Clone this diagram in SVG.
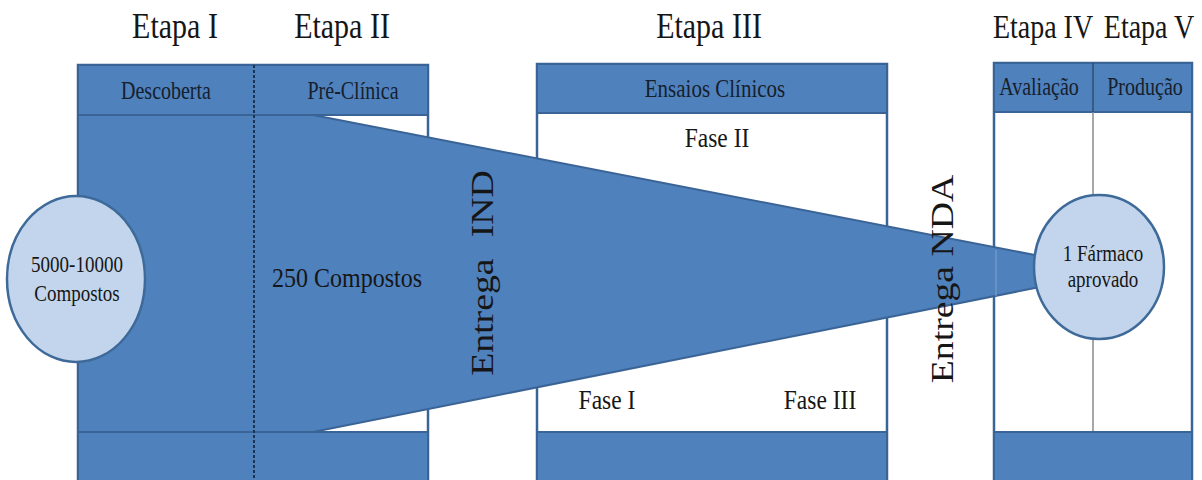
<svg xmlns="http://www.w3.org/2000/svg" width="1202" height="480" viewBox="0 0 1202 480">
  <style>
    .band { fill: #4F81BD; stroke: #3B6496; stroke-width: 2; }
    .frame { fill: #FFFFFF; stroke: #3B6496; stroke-width: 2.5; }
    .t { font-family: "Liberation Serif", "Times New Roman", serif; fill: #161616; text-anchor: middle; }
    .stage { font-size: 30px; }
    .hdr { font-size: 20px; fill: #16202C; }
    .phase { font-size: 23.5px; }
    .bubble { fill: #C3D5EC; stroke: #3E6A9A; stroke-width: 2.5; }
  </style>

  <!-- stage titles -->
  <g id="stage-titles">
    <text class="t stage" transform="translate(175,38) scale(1,1.22)">Etapa I</text>
    <text class="t stage" transform="translate(342,38) scale(1,1.22)">Etapa II</text>
    <text class="t stage" transform="translate(709,38) scale(1,1.22)">Etapa III</text>
    <text class="t stage" style="font-size:28px" transform="translate(1043,38) scale(1,1.22)">Etapa IV</text>
    <text class="t stage" style="font-size:28px" transform="translate(1149,38) scale(1,1.22)">Etapa V</text>
  </g>

  <!-- Box: Descoberta / Pré-Clínica -->
  <g id="box-discovery-preclinical">
    <rect class="frame" x="78" y="65" width="350" height="425"/>
    <rect class="band" x="78" y="65" width="350" height="50"/>
    <rect class="band" x="78" y="432" width="350" height="60"/>
    <rect x="79" y="115" width="176" height="317" fill="#4F81BD"/>
    <text class="t hdr" transform="translate(166,99) scale(1,1.22)">Descoberta</text>
    <text class="t hdr" transform="translate(353,99) scale(1,1.22)">Pré-Clínica</text>
  </g>

  <!-- Box: Ensaios Clínicos -->
  <g id="box-clinical">
    <rect class="frame" x="537" y="64" width="350" height="426"/>
    <rect class="band" x="537" y="64" width="350" height="49"/>
    <rect class="band" x="537" y="432" width="350" height="60"/>
    <text class="t hdr" style="font-size:21px" transform="translate(715,97) scale(1,1.22)">Ensaios Clínicos</text>
  </g>

  <!-- Box: Avaliação / Produção -->
  <g id="box-approval-production">
    <rect class="frame" x="994" y="63" width="198" height="427"/>
    <rect class="band" x="994" y="63" width="198" height="49"/>
    <line x1="1093" y1="63" x2="1093" y2="112" stroke="#2E4E75" stroke-width="1.5"/>
    <line x1="1093" y1="112" x2="1093" y2="432" stroke="#8A8A8A" stroke-width="1.5"/>
    <rect class="band" x="994" y="432" width="198" height="60"/>
    <text class="t hdr" transform="translate(1039,95) scale(1,1.22)">Avaliação</text>
    <text class="t hdr" transform="translate(1145,95) scale(1,1.22)">Produção</text>
  </g>

  <!-- funnel connector -->
  <g id="connectors">
    <polygon points="79,115 313,115 1045,257 1045,286 313,432 79,432" fill="#4F81BD" stroke="#3B6496" stroke-width="2" stroke-linejoin="round"/>
    <rect x="79" y="116" width="174" height="315" fill="#4F81BD"/>
    <line x1="996" y1="250" x2="996" y2="296" stroke="#7FA3CF" stroke-width="1"/>
    <line x1="254" y1="65" x2="254" y2="480" stroke="#1E3350" stroke-width="2" stroke-dasharray="3,2"/>
  </g>

  <!-- phase labels -->
  <g id="phases">
    <text class="t phase" transform="translate(717,147) scale(1,1.15)">Fase II</text>
    <text class="t phase" transform="translate(607,409) scale(1,1.15)">Fase I</text>
    <text class="t phase" transform="translate(820,409) scale(1,1.15)">Fase III</text>
  </g>

  <g id="label-250">
    <text class="t" style="font-size:24px" transform="translate(347,287) scale(1,1.15)">250 Compostos</text>
  </g>

  <g id="label-ind">
    <text class="t" style="font-size:32px" transform="translate(493,273) rotate(-90) scale(1.18,1)">Entrega <tspan dx="10">IND</tspan></text>
  </g>

  <g id="label-nda">
    <text class="t" style="font-size:32px" transform="translate(953,279) rotate(-90) scale(1.18,1)">Entrega NDA</text>
  </g>

  <!-- start bubble -->
  <g id="node-start">
    <ellipse class="bubble" cx="76" cy="279" rx="69" ry="83"/>
    <text class="t" style="font-size:19px" transform="translate(77,272) scale(1,1.25)">5000-10000</text>
    <text class="t" style="font-size:19px" transform="translate(77,301) scale(1,1.25)">Compostos</text>
  </g>

  <!-- end bubble -->
  <g id="node-end">
    <ellipse class="bubble" cx="1099" cy="267" rx="65" ry="72" fill="#B9CDE6"/>
    <text class="t" style="font-size:19px" transform="translate(1103,261) scale(1,1.22)">1 Fármaco</text>
    <text class="t" style="font-size:19px" transform="translate(1103,287) scale(1,1.22)">aprovado</text>
  </g>
</svg>
